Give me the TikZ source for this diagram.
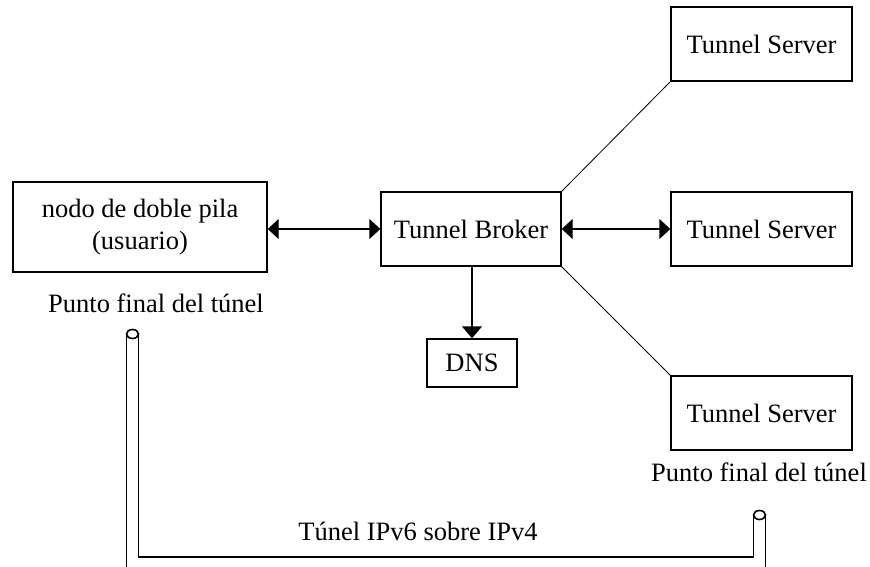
\documentclass[tikz,border=0pt]{standalone}
\usepackage{fontspec}
\setmainfont{Liberation Serif}
\usetikzlibrary{arrows.meta}
\begin{document}
\begin{tikzpicture}[x=1pt,y=-1pt,
  every node/.style={font=\fontsize{26.5}{32}\selectfont},
  box/.style={draw,line width=1.4pt,inner sep=0pt,align=center},
  lbl/.style={inner sep=0pt},
  arr/.style={line width=1.4pt,-{Triangle[length=12pt,width=20pt]}},
  darr/.style={line width=1.4pt,{Triangle[length=11pt,width=20pt]}-{Triangle[length=11pt,width=20pt]}},
  thin link/.style={line width=0.8pt},
  tube/.style={line width=1.6pt}]
\useasboundingbox (0,0) rectangle (870,567);

% boxes
\node[box,minimum width=254pt,minimum height=90pt] (user) at (140,227) {nodo de doble pila\\(usuario)};
\node[box,minimum width=180pt,minimum height=74pt] (broker) at (471,229) {Tunnel Broker};
\node[box,minimum width=181pt,minimum height=74pt] (ts1) at (761.5,44) {Tunnel Server};
\node[box,minimum width=181pt,minimum height=74pt] (ts2) at (761.5,229) {Tunnel Server};
\node[box,minimum width=181pt,minimum height=74pt] (ts3) at (761.5,413) {Tunnel Server};
\node[box,minimum width=90pt,minimum height=48pt] (dns) at (472,363) {DNS};

% labels
\node[lbl] (endL) at (156,303) {Punto final del túnel};
\node[lbl] (endR) at (759,472) {Punto final del túnel};
\node[lbl] (tunnel) at (418,531) {Túnel IPv6 sobre IPv4};

% connectors
\draw[darr] (user.east |- broker.west) -- (broker.west);
\draw[darr] (broker.east) -- (ts2.west);
\draw[arr] (broker.south -| dns.north) -- (dns.north);
\draw[thin link] (broker.north east) -- (ts1.south west);
\draw[thin link] (broker.south east) -- (ts3.north west);

% tunnel pipe between the two end points
\coordinate (capL) at (132.5,334);
\coordinate (capR) at (759.5,515);
\draw[tube] (capL) ellipse [x radius=6pt,y radius=4.5pt];
\draw[tube] (capR) ellipse [x radius=6pt,y radius=4.5pt];
\draw[tube] ([xshift=-6pt]capL) -- ([xshift=-6pt]capL |- 0,567);
\draw[tube] ([xshift=6pt]capL) -- ([xshift=6pt]capL |- 0,557) -- ([xshift=-6pt]capR |- 0,557) -- ([xshift=-6pt]capR);
\draw[tube] ([xshift=6pt]capR) -- ([xshift=6pt]capR |- 0,567);
\end{tikzpicture}
\end{document}
